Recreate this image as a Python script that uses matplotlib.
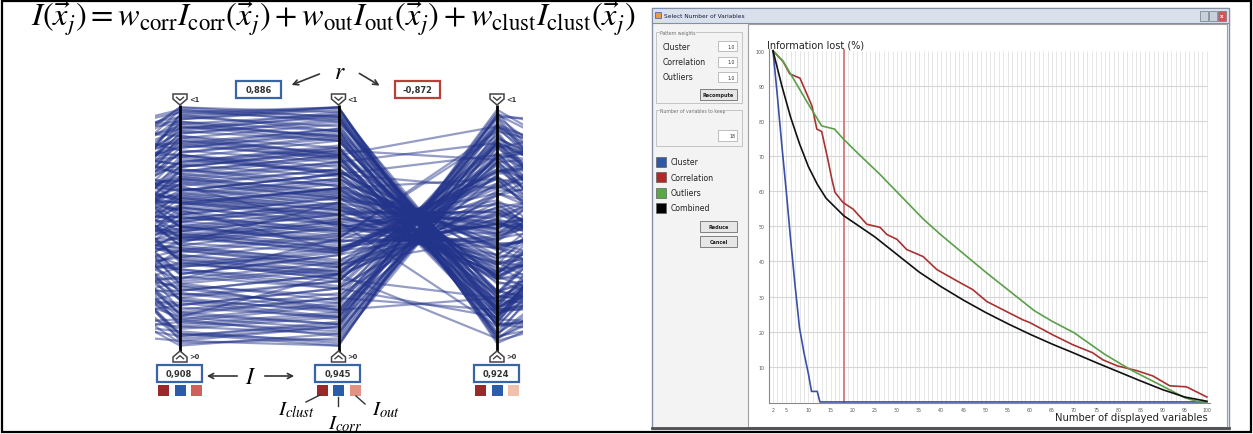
import matplotlib.pyplot as plt
from matplotlib.patches import Rectangle, Polygon

plt.rcParams['mathtext.fontset'] = 'stix'
plt.rcParams['font.family'] = ['DejaVu Sans']

# ---- parallel coordinates: value of each line on each axis (0 = bottom, 100 = top)
# left neighbour axis (only a stub is visible)
axis0 = [47, 82, 15, 63, 30, 91, 55, 8, 72, 38,
         61, 24, 87, 43, 5, 69, 34, 96, 52, 18,
         77, 40, 11, 58, 85, 27, 66, 3, 49, 93,
         21, 74, 36, 59, 14, 80, 45, 99, 31, 68,
         9, 53, 88, 26, 71, 42, 17, 64, 95, 35,
         57, 12, 79, 46, 84, 29, 62, 6, 50, 90,
         33, 70, 19, 86, 41, 2, 75, 54, 23, 98,
         67, 39, 81, 13, 60, 92, 28, 48, 76, 10,
         44, 89, 25, 65, 7, 83, 37, 56, 16, 73,
         51, 94, 22, 78, 32, 60, 4, 87, 45, 70,
         58, 13, 76, 35, 92, 21, 67, 44, 9, 81,
         28, 63, 50, 97, 16, 72, 39, 85, 4, 55,
         90, 32, 68, 11, 47, 78, 24, 59, 95, 6,
         41, 87, 19, 64, 30, 73, 52, 14, 83, 37,
         70, 2, 56, 89, 25, 44, 96, 12, 61, 34,
         79, 48, 8, 66, 93, 20, 54, 38, 75, 27,
         15, 84, 42, 60, 3, 71, 31, 88, 46, 65,
         52, 23, 99, 36, 77, 10, 58, 82, 29, 69,
         7, 45, 86, 18, 62, 91, 33, 74, 50, 26,
         94, 40, 12, 57, 80, 22, 68, 5, 43, 85]
axis1 = [1, 2, 4, 5, 7, 8, 10, 11, 13, 14,
         16, 17, 19, 20, 22, 23, 25, 26, 28, 29,
         30, 32, 33, 34, 36, 37, 38, 40, 41, 42,
         43, 44, 45, 46, 47, 48, 49, 50, 51, 52,
         53, 54, 55, 56, 57, 58, 59, 60, 61, 62,
         63, 64, 65, 66, 67, 68, 69, 70, 71, 72,
         73, 74, 75, 76, 77, 78, 79, 80, 81, 82,
         83, 84, 85, 86, 87, 88, 89, 90, 91, 92,
         93, 94, 95, 96, 97, 98, 99, 100, 35, 65,
         50, 45, 55, 25, 75, 12, 88, 60, 40, 98,
         3, 6, 9, 12, 15, 18, 21, 24, 27, 31,
         34, 37, 39, 42, 44, 46, 48, 50, 52, 54,
         56, 58, 60, 62, 64, 66, 68, 70, 72, 74,
         77, 80, 83, 86, 89, 92, 95, 97, 99, 0,
         5, 10, 20, 30, 40, 45, 50, 55, 60, 70,
         80, 90, 2, 14, 26, 38, 52, 63, 75, 87,
         8, 19, 33, 47, 58, 69, 81, 93, 43, 57,
         11, 23, 35, 49, 61, 73, 85, 96, 28, 67,
         17, 41, 53, 79, 91, 36, 65, 4, 100, 48,
         22, 59, 71, 84, 13, 46, 62, 94, 32, 76]
axis2 = [3, 0, 9, 2, 12, 5, 6, 18, 9, 20,
         12, 24, 15, 27, 18, 30, 21, 19, 35, 24,
         38, 27, 40, 30, 31, 44, 33, 47, 36, 50,
         39, 51, 40, 53, 41, 55, 44, 57, 46, 48,
         60, 49, 62, 51, 64, 52, 66, 55, 68, 57,
         70, 58, 72, 61, 74, 62, 76, 65, 77, 67,
         80, 69, 82, 71, 83, 73, 86, 75, 88, 77,
         90, 79, 91, 81, 93, 83, 94, 86, 96, 88,
         97, 90, 99, 92, 100, 95, 96, 98, 28, 72,
         45, 52, 48, 15, 82, 30, 80, 66, 34, 100,
         8, 1, 14, 7, 22, 11, 27, 16, 33, 24,
         41, 30, 46, 35, 49, 40, 55, 43, 58, 47,
         63, 51, 66, 55, 70, 59, 74, 63, 79, 67,
         84, 73, 89, 79, 95, 86, 100, 90, 94, 5,
         0, 17, 14, 38, 33, 52, 44, 62, 53, 77,
         72, 97, 8, 9, 32, 31, 59, 57, 81, 80,
         13, 12, 39, 41, 65, 62, 87, 88, 60, 40,
         4, 30, 28, 56, 54, 80, 78, 100, 45, 50,
         24, 34, 60, 72, 98, 29, 72, 10, 96, 42,
         15, 66, 64, 91, 20, 39, 69, 87, 25, 83]
axis3 = [85, 95, 97, 83, 96, 92, 80, 92, 81, 93,
         93, 63, 77, 87, 79, 79, 64, 83, 77, 12,
         53, 84, 73, 56, 71, 44, 74, 68, 58, 37,
         73, 41, 46, 57, 63, 34, 70, 38, 41, 61,
         30, 64, 46, 35, 48, 42, 22, 56, 35, 34,
         41, 29, 21, 53, 31, 28, 36, 31, 9, 42,
         11, 43, 28, 16, 11, 41, 17, 13, 20, 85,
         23, 10, 14, 28, 3, 9, 18, 16, 14, 5,
         10, 4, 13, 22, 3, 15, 2, 18, 68, 32,
         90, 8, 50, 20, 78, 3, 92, 70, 45, 1,
         96, 90, 96, 80, 84, 87, 85, 77, 81, 65,
         51, 76, 67, 53, 47, 71, 31, 60, 51, 43,
         49, 38, 29, 59, 38, 28, 29, 47, 15, 34,
         9, 40, 20, 9, 16, 18, 8, 5, 21, 89,
         97, 91, 72, 74, 58, 54, 45, 51, 49, 15,
         80, 12, 85, 99, 55, 78, 30, 52, 26, 11,
         92, 76, 70, 51, 49, 35, 17, 23, 30, 67,
         86, 73, 20, 56, 33, 29, 16, 4, 88, 55,
         85, 52, 47, 23, 8, 60, 66, 98, 6, 51,
         79, 44, 27, 22, 15, 66, 19, 15, 86, 13]
# right neighbour axis (only a stub is visible)
axis4 = [62, 18, 85, 40, 93, 27, 71, 50, 9, 66,
         35, 79, 14, 57, 88, 22, 46, 97, 31, 74,
         5, 60, 83, 38, 19, 91, 53, 26, 69, 44,
         81, 12, 67, 30, 95, 48, 7, 76, 58, 21,
         90, 36, 63, 2, 72, 55, 84, 17, 42, 99,
         28, 68, 11, 86, 47, 33, 77, 59, 15, 52,
         94, 24, 70, 43, 8, 61, 37, 82, 56, 13,
         39, 87, 23, 64, 49, 1, 73, 96, 29, 54,
         80, 16, 45, 92, 34, 65, 20, 58, 89, 41,
         6, 75, 50, 25, 98, 39, 61, 10, 85, 30,
         21, 74, 46, 90, 8, 59, 33, 82, 15, 67,
         50, 2, 88, 38, 71, 25, 96, 12, 63, 44,
         79, 30, 55, 18, 93, 41, 6, 85, 27, 60,
         11, 68, 36, 99, 52, 77, 20, 47, 89, 3,
         64, 42, 83, 28, 9, 73, 57, 34, 95, 16,
         48, 87, 23, 61, 39, 4, 80, 54, 31, 92,
         70, 14, 58, 45, 97, 26, 66, 7, 84, 37,
         19, 91, 51, 76, 1, 62, 35, 86, 43, 73,
         56, 29, 65, 10, 81, 47, 94, 22, 69, 40,
         32, 78, 5, 53, 24, 88, 13, 72, 49, 60]

r_values = ['0,886', '-0,872']
interest_values = ['0,908', '0,945', '0,924']
part_colors = [['#9a2a2a', '#2a5ca8', '#d0605a'],
               ['#9a2a2a', '#2a5ca8', '#e29282'],
               ['#9a2a2a', '#2a5ca8', '#f0c0ae']]

# ---- information lost curves
cluster_x = [2, 3, 4, 5, 6, 7, 8, 9, 10, 10.7, 12, 12.6, 100]
cluster_y = [100, 87, 73, 60, 46, 33, 21, 14, 8, 3, 3, 0, 0]
corr_x = [2, 4.3, 5.8, 8.1, 10.8, 11.9, 13, 14.4, 15.3, 16, 17.8, 20.1, 23.2, 26.2,
          27.7, 30, 32.2, 35.9, 39, 44.2, 47.1, 50.3, 54.8, 58.4, 60, 65.2, 69.7,
          74.2, 76.5, 79.7, 84.2, 87.8, 91.6, 95.4, 100]
corr_y = [100, 96.9, 93.4, 92.2, 84.3, 77.7, 77, 69, 63.4, 59.7, 56.8, 54.9, 50.6, 49.7,
          47.7, 46.3, 43.4, 41.4, 37.7, 34, 32, 28.6, 25.7, 23.4, 22.6, 19.1, 16.3,
          14, 12, 10.3, 8.9, 7.4, 4.6, 4.3, 1.4]
out_x = [2, 4.3, 9.7, 13, 15.9, 17.8, 21, 26, 36, 40, 50, 57, 61, 65, 70, 77, 83, 90, 95, 98, 100]
out_y = [100, 97, 85.4, 78.6, 77.7, 75, 71, 65, 52, 47.5, 37, 30, 26, 23, 19.7, 13.5, 9, 4.5, 1.2, 0.1, 0]
comb_x = [2, 4, 6, 8, 10, 12, 14, 16, 18, 20, 25, 30, 35, 40, 45, 50, 55, 60, 65, 70,
          75, 80, 85, 90, 95, 100]
comb_y = [100, 90, 81, 73.5, 67, 62, 58, 55.5, 53, 51.3, 47, 42, 37, 32.8, 29, 25.5,
          22.3, 19.3, 16.5, 13.9, 11.2, 8.6, 6, 3.5, 1.4, 0.2]
series_names = ['Cluster', 'Correlation', 'Outliers', 'Combined']
series_colors = ['#3a4fa8', '#a83232', '#5aa04a', '#111111']
legend_colors = ['#2e58a8', '#b02828', '#58a848', '#000000']
keep_vars = 18
x_ticks = [2, 5, 10, 15, 20, 25, 30, 35, 40, 45, 50, 55, 60, 65, 70, 75, 80, 85, 90, 95, 100]
y_ticks = [10, 20, 30, 40, 50, 60, 70, 80, 90, 100]
weight_labels = ['Cluster', 'Correlation', 'Outliers']
weight_values = ['1,0', '1,0', '1,0']

W, H = 1253, 435
fig = plt.figure(figsize=(W / 100, H / 100), dpi=100)


def px_axes(left, top, right, bottom):
    return fig.add_axes([left / W, 1 - bottom / H, (right - left) / W, (bottom - top) / H])


def pixel_canvas():
    ax = fig.add_axes([0, 0, 1, 1])
    ax.set_xlim(0, W)
    ax.set_ylim(H, 0)
    ax.axis('off')
    ax.patch.set_alpha(0)
    return ax


back = pixel_canvas()

# outer frame
back.add_patch(Rectangle((2, 2), W - 4, H - 4, fill=False, ec='black', lw=1.6))

# ---- dialog window chrome
back.add_patch(Rectangle((652, 9), 577, 421, fc='#f3f3f3', ec='#8090a8', lw=1))
back.add_patch(Rectangle((652, 9), 577, 15, fc='#d9e1ec', ec='#8090a8', lw=0.8))
back.add_patch(Rectangle((655, 13), 6, 6, fc='#e0a040', ec='#3060a0', lw=0.5))
back.text(664, 16.5, 'Select Number of Variables', fontsize=4.2, color='#1a1a40', va='center')
for bx, col in zip([1200, 1209, 1218], ['#c8d0dc', '#c8d0dc', '#d9534f']):
    back.add_patch(Rectangle((bx, 12), 8, 10, fc=col, ec='#707a88', lw=0.5))
back.text(1222, 17, 'x', fontsize=4, color='white', ha='center', va='center', fontweight='bold')
back.add_patch(Rectangle((748, 25), 479, 403, fc='white', ec='#a0a0a0', lw=0.8))
back.plot([652, 1229], [429, 429], color='#505050', lw=2)


def group_box(x0, y0, x1, y1, label):
    back.add_patch(Rectangle((x0, y0), x1 - x0, y1 - y0, fill=False, ec='#c4c4c4', lw=0.7))
    back.text(x0 + 4, y0, label, fontsize=3.3, color='#707070', va='center',
              bbox=dict(fc='#f3f3f3', ec='none', pad=0.3))


def text_field(x0, y0, x1, y1, value):
    back.add_patch(Rectangle((x0, y0), x1 - x0, y1 - y0, fc='white', ec='#b4b4b4', lw=0.6))
    back.text(x1 - 2, (y0 + y1) / 2, value, fontsize=3.3, color='#333', ha='right', va='center')


def button(x0, y0, x1, y1, label):
    back.add_patch(Rectangle((x0, y0), x1 - x0, y1 - y0, fc='#e6e6e6', ec='#6e6e6e', lw=0.6))
    back.text((x0 + x1) / 2, (y0 + y1) / 2, label, fontsize=3.5, color='#222',
              ha='center', va='center', fontweight='bold')


group_box(656, 33, 742, 104, 'Pattern weights')
for i, (lab, val) in enumerate(zip(weight_labels, weight_values)):
    yy = 47 + 15.5 * i
    back.text(663, yy, lab, fontsize=5.6, color='#222', va='center')
    text_field(718, yy - 5, 737, yy + 5, val)
button(700, 90, 737, 101, 'Recompute')
group_box(656, 111, 742, 147, 'Number of variables to keep')
text_field(718, 131, 737, 142, str(keep_vars))
for i, (lab, col) in enumerate(zip(series_names, legend_colors)):
    yy = 163 + 15.3 * i
    back.add_patch(Rectangle((656, yy - 5), 10, 10, fc=col, ec='#606060', lw=0.5))
    back.text(671, yy, lab, fontsize=5.6, color='#222', va='center')
button(700, 222, 737, 233, 'Reduce')
button(700, 237, 737, 248, 'Cancel')

back.text(767, 45, 'Information lost (%)', fontsize=7, color='#222', va='center')
back.text(1208, 418, 'Number of displayed variables', fontsize=7.2, color='#222',
          ha='right', va='center')

# ---- parallel coordinates
axis_px = [180, 338.5, 497]
spacing = axis_px[1] - axis_px[0]
pc = px_axes(155, 106, 523, 349)
pc.set_xlim((155 - axis_px[0]) / spacing, (523 - axis_px[0]) / spacing)
pc.set_ylim(-1, 101)
pc.axis('off')
for vals in zip(axis0, axis1, axis2, axis3, axis4):
    pc.plot([-1, 0, 1, 2, 3], vals, color='#22338a', alpha=0.48, lw=1.6, solid_joinstyle='miter')
pc.vlines([0, 1, 2], -2.6, 101, colors='black', lw=2, clip_on=False, zorder=4)

# ---- information lost chart
ch = px_axes(769, 50, 1210, 404)
ch.set_xlim(1.1, 100.7)
ch.set_ylim(-0.3, 100.5)
ch.patch.set_alpha(0)
ch.vlines(range(2, 101), 0, 100, colors='#e2e2e2', lw=0.6, zorder=0)
ch.hlines(y_ticks[:-1], 1.1, 100, colors='#d6d6d6', lw=0.8, zorder=0)
for xs, ys, col in zip([cluster_x, corr_x, out_x, comb_x], [cluster_y, corr_y, out_y, comb_y],
                       series_colors):
    ch.plot(xs, ys, color=col, lw=1.2, zorder=3)
ch.axvline(keep_vars, color='#d96a6a', lw=1.2, zorder=2)
for s in ['top', 'right']:
    ch.spines[s].set_visible(False)
for s in ['left', 'bottom']:
    ch.spines[s].set_color('#8a8a8a')
    ch.spines[s].set_linewidth(0.8)
ch.set_xticks(x_ticks)
ch.set_yticks(y_ticks)
ch.tick_params(length=0, labelsize=3.4, labelcolor='#555', pad=3)

# ---- front annotations
front = pixel_canvas()
formula = (r'$I(\vec{x}_j) = w_{\mathrm{corr}}I_{\mathrm{corr}}(\vec{x}_j)'
           r' + w_{\mathrm{out}}I_{\mathrm{out}}(\vec{x}_j)'
           r' + w_{\mathrm{clust}}I_{\mathrm{clust}}(\vec{x}_j)$')
front.text(31, 27, formula, fontsize=23.3, color='black', va='baseline')

for cx in axis_px:
    front.add_patch(Polygon([(cx - 7, 95), (cx + 7, 95), (cx + 7, 100), (cx, 106), (cx - 7, 100)],
                            closed=True, fc='white', ec='#444', lw=1.1, zorder=5))
    front.plot([cx - 3.5, cx, cx + 3.5], [98.3, 101.3, 98.3], color='#444', lw=1, zorder=6)
    front.text(cx + 9, 100, '<1', fontsize=4.8, fontweight='bold', color='#333', va='center')
    front.add_patch(Polygon([(cx - 7, 363), (cx + 7, 363), (cx + 7, 358), (cx, 352), (cx - 7, 358)],
                            closed=True, fc='white', ec='#444', lw=1.1, zorder=5))
    front.plot([cx - 3.5, cx, cx + 3.5], [359.7, 356.7, 359.7], color='#444', lw=1, zorder=6)
    front.text(cx + 9, 357, '>0', fontsize=4.8, fontweight='bold', color='#333', va='center')


def value_box(cx, cy, text, edge):
    front.add_patch(Rectangle((cx - 22.5, cy - 8.5), 45, 17, fc='white', ec=edge, lw=1.6))
    front.text(cx, cy, text, fontsize=6, fontweight='bold', color='#333', ha='center', va='center')


value_box(258.5, 90, r_values[0], '#3a64a8')
value_box(417.5, 90, r_values[1], '#b8403a')
front.text(340, 72, r'$r$', fontsize=17, ha='center', va='center')
arrow = dict(arrowstyle='->', color='#333', lw=1.2, mutation_scale=9)
front.annotate('', xy=(289, 87), xytext=(322, 74), arrowprops=arrow)
front.annotate('', xy=(382, 88), xytext=(357, 73), arrowprops=arrow)

for cx, val, cols in zip(axis_px, interest_values, part_colors):
    value_box(cx - 1, 374.5, val, '#3a64a8')
    for k, col in enumerate(cols):
        front.add_patch(Rectangle((cx - 22 + 16.5 * k, 386), 11, 11, fc=col, ec='none'))

front.text(251, 377, r'$I$', fontsize=17, ha='center', va='center')
front.annotate('', xy=(204, 377), xytext=(240, 377), arrowprops=arrow)
front.annotate('', xy=(297, 377), xytext=(262, 377), arrowprops=arrow)

front.text(296, 410, r'$I_{clust}$', fontsize=15, ha='center', va='center')
front.plot([306, 320], [403, 396], color='#333', lw=1)
front.text(345, 424, r'$I_{corr}$', fontsize=15, ha='center', va='center')
front.plot([338, 338], [398, 407], color='#333', lw=1)
front.text(386, 410, r'$I_{out}$', fontsize=15, ha='center', va='center')
front.plot([356, 365], [397, 405], color='#333', lw=1)

fig.savefig('out.png', dpi=100)
